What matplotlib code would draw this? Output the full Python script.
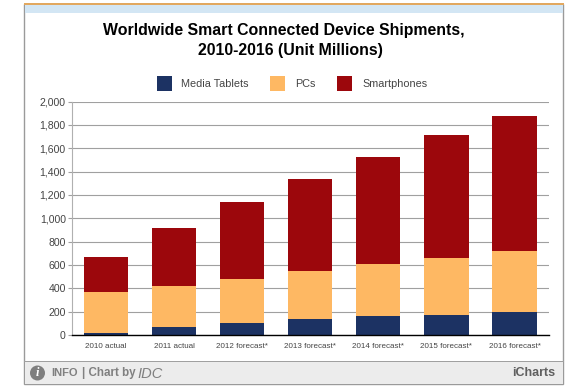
# chart of smart connected device shipments, iCharts style
import matplotlib
matplotlib.use('Agg')
from matplotlib import pyplot as plt
from matplotlib.patches import Rectangle, Circle
from matplotlib.transforms import IdentityTransform
import numpy as np

W = 585.0
H = 390.0

categories = ['2010 actual', '2011 actual', '2012 forecast*', '2013 forecast*',
              '2014 forecast*', '2015 forecast*', '2016 forecast*']
tablets = [20, 70, 105, 135, 160, 175, 195]
pcs = [345, 350, 375, 410, 445, 485, 525]
phones = [305, 495, 655, 795, 920, 1050, 1155]
y_ticks = [0, 200, 400, 600, 800, 1000, 1200, 1400, 1600, 1800, 2000]

navy = '#1c3263'
orange = '#feb863'
red = '#9c070c'

plt.rcParams['font.family'] = ['Liberation Sans', 'DejaVu Sans']

fig = plt.figure(figsize=(W / 100, H / 100), dpi=100, facecolor='white')


# helper, everything on the page is in pixels from top left
def px_rect(x0, y0, x1, y1, **kw):
    r = Rectangle((x0 / W, 1 - y1 / H), (x1 - x0) / W, (y1 - y0) / H,
                  transform=fig.transFigure, **kw)
    fig.add_artist(r)
    return r


def px_text(x, y, s, **kw):
    return fig.text(x / W, 1 - y / H, s, **kw)


# frame, header strips, footer
px_rect(24.5, 3.5, 563, 384, facecolor='white', edgecolor='#9a9a9a', linewidth=1)
px_rect(25, 5, 563, 13, facecolor='#d3e6f4', edgecolor='none')
px_rect(24.5, 3, 563.5, 5, facecolor='#e2a85f', edgecolor='none')
px_rect(25, 361, 563, 384, facecolor='#ececec', edgecolor='none')
px_rect(24.5, 361, 563.5, 362, facecolor='#a0a0a0', edgecolor='none')

# title
px_text(284, 30.5, 'Worldwide Smart Connected Device Shipments,', ha='center', va='center',
        fontsize=11.45, fontweight='bold', color='black')
px_text(290, 51, '2010-2016 (Unit Millions)', ha='center', va='center',
        fontsize=11.45, fontweight='bold', color='black')

# legend
px_rect(156.5, 75.5, 171.5, 90.5, facecolor=navy, edgecolor='none')
px_text(181, 84, 'Media Tablets', ha='left', va='center', fontsize=7.8, color='#444444')
px_rect(270, 75.5, 285, 90.5, facecolor=orange, edgecolor='none')
px_text(295, 84, 'PCs', ha='left', va='center', fontsize=7.8, color='#444444')
px_rect(337, 75.5, 352, 90.5, facecolor=red, edgecolor='none')
px_text(362, 84, 'Smartphones', ha='left', va='center', fontsize=7.8, color='#444444')

# plot area
left = 72.0
right = 548.5
top = 101.5
bottom = 335.0
ax = fig.add_axes([left / W, 1 - bottom / H, (right - left) / W, (bottom - top) / H])
ax.patch.set_alpha(0)
ax.set_zorder(10)

x = np.arange(len(categories))
tablets = np.array(tablets)
pcs = np.array(pcs)
phones = np.array(phones)
ax.bar(x, tablets, width=0.65, color=navy, zorder=3)
ax.bar(x, pcs, width=0.65, bottom=tablets, color=orange, zorder=3)
ax.bar(x, phones, width=0.65, bottom=tablets + pcs, color=red, zorder=3)

ax.set_xlim(-0.5, len(categories) - 0.5)
ax.set_ylim(0, 2000)
ax.set_yticks(y_ticks)
ax.set_yticklabels(['{:,}'.format(v) for v in y_ticks], fontsize=7.6, color='#444444')
ax.set_xticks(x)
ax.set_xticklabels(categories, fontsize=5.8, color='#444444')
ax.tick_params(axis='x', length=0, pad=6)
ax.tick_params(axis='y', length=3, width=0.8, color='#a0a0a0', pad=1.5)
ax.grid(axis='y', color='#a0a0a0', linewidth=0.8, zorder=0)
for side in ['top', 'right']:
    ax.spines[side].set_visible(False)
ax.spines['left'].set_color('#b0b0b0')
ax.spines['left'].set_linewidth(0.8)
ax.spines['bottom'].set_color('black')
ax.spines['bottom'].set_linewidth(1.0)
ax.spines['bottom'].set_zorder(5)

# footer, icon is in raw display pixels so it stays round
icon = Circle((37.5, H - 373), 7.5, facecolor='#7f7f7f', edgecolor='none')
fig.add_artist(icon)
icon.set_transform(IdentityTransform())
px_text(37.5, 373, 'i', ha='center', va='center', fontsize=9, fontweight='bold',
        fontstyle='italic', color='white', family='Liberation Serif')
px_text(51, 373, 'INFO', ha='left', va='center', fontsize=8, fontweight='bold', color='#808080')
px_text(82, 373, '| Chart by', ha='left', va='center', fontsize=8.4, fontweight='bold', color='#808080')
px_text(137, 373.5, 'IDC', ha='left', va='center', fontsize=10.5, fontstyle='italic', color='#808080')
px_text(555.5, 373, 'iCharts', ha='right', va='center', fontsize=9, fontweight='bold',
        color='#606060')

fig.savefig('out.png', dpi=100, facecolor='white')
